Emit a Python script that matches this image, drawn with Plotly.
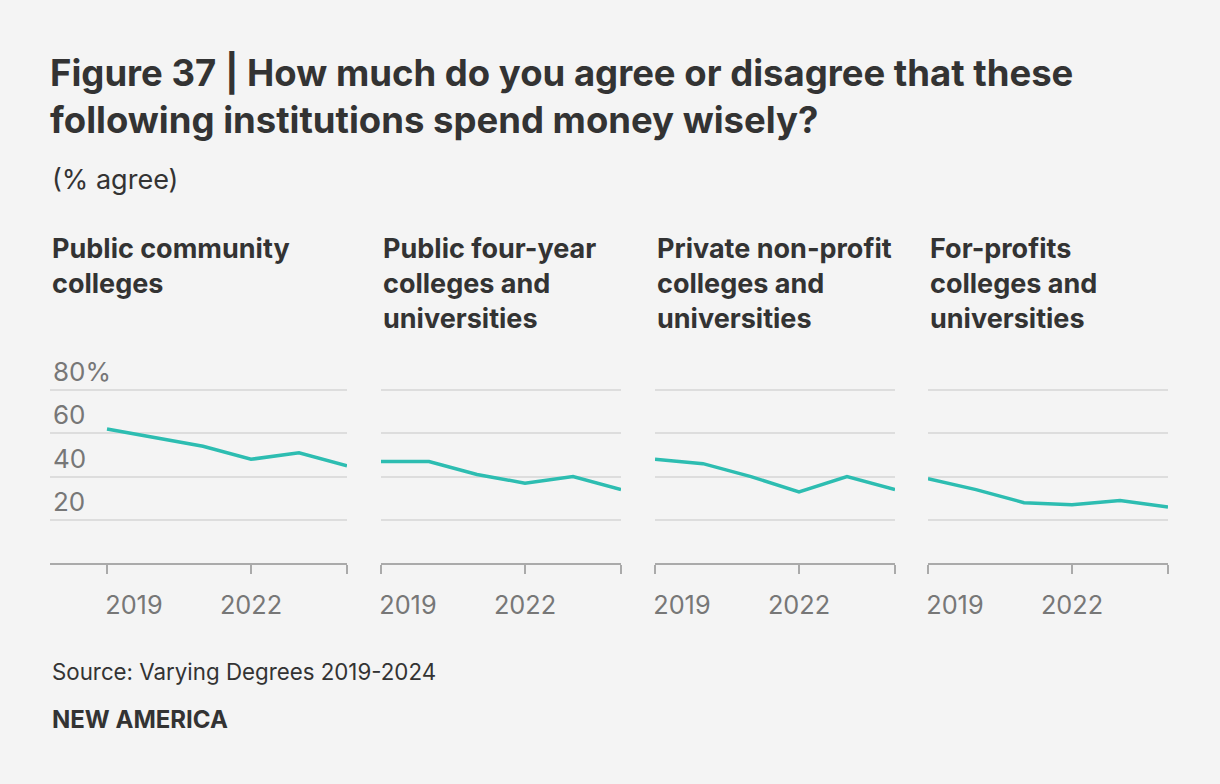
import plotly.graph_objects as go

years = [2019, 2020, 2021, 2022, 2023, 2024]
panel_titles = [
    "Public community<br>colleges",
    "Public four-year<br>colleges and<br>universities",
    "Private non-profit<br>colleges and<br>universities",
    "For-profits<br>colleges and<br>universities",
]
community = [62, 58, 54, 48, 51, 45]
public_four_year = [47, 47, 41, 37, 40, 34]
private_nonprofit = [48, 46, 40, 33, 40, 34]
for_profit = [39, 34, 28, 27, 29, 26]
series = [community, public_four_year, private_nonprofit, for_profit]

y_tickvals = [20, 40, 60, 80]
y_ticktext = ["20", "40", "60", "80%"]
x_tickvals = [2019, 2022, 2024]
x_ticktext = ["\u2007\u2007\u2007\u20092019", "2022", ""]

W, H = 1220, 784
FONT = "Inter"
TEXT = "#333333"
GREY = "#777777"
TEAL = "#2dbdb1"
BG = "#f4f4f4"

# pixel layout
panel_px = [(50, 347), (381, 621), (655, 894), (928, 1168)]
y0_px, y_per_unit = 563.3, 2.1667
y_top_val = 96
y_dom = [1 - y0_px / H, 1 - (y0_px - y_top_val * y_per_unit) / H]
data_w = 240.0

fig = go.Figure()
for i, (vals, (l, r)) in enumerate(zip(series, panel_px)):
    n = i + 1
    xa = "x" if n == 1 else f"x{n}"
    ya = "y" if n == 1 else f"y{n}"
    fig.add_trace(go.Scatter(x=years, y=vals, mode="lines",
                             line=dict(color=TEAL, width=3.5),
                             xaxis=xa, yaxis=ya, hoverinfo="x+y",
                             showlegend=False))
    if n == 1:
        x_start = 2024 - 5 * (r - l) / data_w
        dom = [l / W, r / W]
    else:
        x_start = 2019
        dom = [l / W, (l + data_w) / W]
    xkey = "xaxis" if n == 1 else f"xaxis{n}"
    ykey = "yaxis" if n == 1 else f"yaxis{n}"
    fig.layout[xkey] = dict(
        domain=dom, range=[x_start, 2024], anchor=ya, automargin=False,
        showgrid=False, zeroline=False, showline=True, linecolor="#aaaaaa",
        linewidth=1.5, ticks="outside", ticklen=9, tickwidth=1.5,
        tickcolor="#aaaaaa", tickvals=x_tickvals, ticktext=x_ticktext,
        tickfont=dict(family=FONT, size=25.3, color=GREY),
        ticklabelstandoff=10, fixedrange=True,
    )
    fig.layout[ykey] = dict(
        domain=y_dom, range=[0, y_top_val], anchor=xa, automargin=False,
        showgrid=True, gridcolor="#dddddd", gridwidth=1.5, zeroline=False,
        showline=False, tickvals=y_tickvals, showticklabels=False, ticks="",
        fixedrange=True,
    )
    fig.add_annotation(text=f"<b>{panel_titles[i]}</b>", x=l / W, y=1 - 230 / H,
                       xref="paper", yref="paper", xanchor="left", yanchor="top",
                       align="left", showarrow=False,
                       font=dict(family=FONT, size=27, color=TEXT))

# value labels for the shared y scale, drawn by a companion axis over panel 1
l1, r1 = panel_px[0]
fig.add_trace(go.Scatter(x=[], y=[], xaxis="x5", yaxis="y5", showlegend=False,
                         hoverinfo="skip"))
fig.layout["xaxis5"] = dict(domain=[l1 / W, r1 / W], range=[0, 1], anchor="y5",
                            visible=False, automargin=False, fixedrange=True)
fig.layout["yaxis5"] = dict(
    domain=y_dom, range=[0, y_top_val], anchor="x5", automargin=False,
    showgrid=False, zeroline=False, showline=False, ticks="",
    tickvals=y_tickvals, ticktext=y_ticktext, ticklabelposition="inside top",
    tickfont=dict(family=FONT, size=26, color=GREY), fixedrange=True,
)

fig.add_annotation(text="<b>Figure 37 | How much do you agree or disagree that these<br>following institutions spend money wisely?</b>",
                   x=48 / W, y=1 - 49 / H, xref="paper", yref="paper",
                   xanchor="left", yanchor="top", align="left", showarrow=False,
                   font=dict(family=FONT, size=36.5, color=TEXT))
fig.add_annotation(text="(% agree)", x=50 / W, y=1 - 180 / H, xref="paper", yref="paper",
                   xanchor="left", yanchor="middle", align="left", showarrow=False,
                   font=dict(family=FONT, size=27, color=TEXT))
fig.add_annotation(text="Source: Varying Degrees 2019-2024", x=50 / W, y=1 - 671 / H,
                   xref="paper", yref="paper", xanchor="left", yanchor="middle",
                   align="left", showarrow=False,
                   font=dict(family=FONT, size=22.3, color=TEXT))
fig.add_annotation(text="<b>NEW AMERICA</b>", x=50 / W, y=1 - 719 / H,
                   xref="paper", yref="paper", xanchor="left", yanchor="middle",
                   align="left", showarrow=False,
                   font=dict(family=FONT, size=24, color=TEXT))

fig.update_layout(width=W, height=H,
                  margin=dict(l=0, r=0, t=0, b=0, pad=0, autoexpand=False),
                  paper_bgcolor=BG, plot_bgcolor="rgba(0,0,0,0)",
                  font=dict(family=FONT, color=TEXT), showlegend=False)
fig.write_html("out.html", config={"displayModeBar": False},
               post_script="document.body.style.margin='0';"
                           "document.body.style.background='%s';" % BG)
